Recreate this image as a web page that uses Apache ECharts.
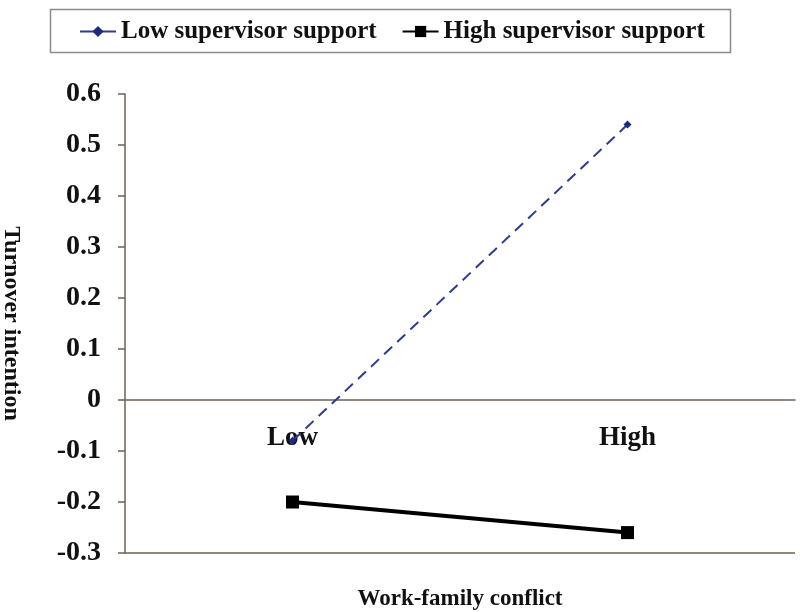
<!DOCTYPE html>
<html>
<head>
<meta charset="utf-8">
<script src="https://cdn.jsdelivr.net/npm/echarts@6/dist/echarts.min.js"></script>
<style>
  html, body { margin: 0; padding: 0; background: #fff; }
  #main { width: 800px; height: 612px; }
</style>
</head>
<body>
<div id="main"></div>
<script>
var categories = ['Low', 'High'];
var lowSupport = [-0.08, 0.54];
var highSupport = [-0.20, -0.26];
var seriesNames = ['Low supervisor support', 'High supervisor support'];
var yMin = -0.3, yMax = 0.6, yStep = 0.1;

var font = '"Liberation Serif", "Times New Roman", serif';
var axisColor = '#6e625a';

var chart = echarts.init(document.getElementById('main'), null, { renderer: 'canvas' });

var option = {
  backgroundColor: '#ffffff',
  animation: false,
  graphic: [{
    type: 'rect',
    left: 48, top: 7,
    shape: { width: 680, height: 43 },
    style: { fill: 'none', stroke: '#8a8a8a', lineWidth: 1.5 },
    z: -1
  }],
  legend: {
    top: 14,
    left: 74,
    itemGap: 25,
    itemWidth: 36,
    itemHeight: 14,
    textStyle: { fontFamily: font, fontWeight: 'bold', fontSize: 25, color: '#111' },
    data: [
      { name: seriesNames[0], lineStyle: { type: 'solid' } },
      { name: seriesNames[1] }
    ]
  },
  grid: { left: 125, right: 5, top: 94, bottom: 59, outerBoundsMode: 'none' },
  xAxis: {
    type: 'category',
    data: categories,
    boundaryGap: true,
    // v6 keeps labels at the grid edge with onZero, so shift the whole axis up to y = 0
    offset: -153,
    axisLine: { onZero: false, lineStyle: { color: axisColor, width: 1.5 } },
    axisTick: { show: false },
    axisLabel: { margin: 25, fontFamily: font, fontWeight: 'bold', fontSize: 27, color: '#111' },
    name: 'Work-family conflict',
    nameLocation: 'middle',
    nameGap: 188,
    nameTextStyle: { fontFamily: font, fontWeight: 'bold', fontSize: 23, color: '#111' }
  },
  yAxis: {
    type: 'value',
    min: yMin,
    max: yMax,
    interval: yStep,
    axisLine: { show: true, onZero: false, lineStyle: { color: axisColor, width: 1.5 } },
    axisTick: { show: true, length: 7, lineStyle: { color: axisColor, width: 1.5 } },
    splitLine: { show: false },
    axisLabel: {
      margin: 24,
      fontFamily: font, fontWeight: 'bold', fontSize: 28, color: '#111',
      formatter: function (v) { return String(Math.round(v * 10) / 10); }
    },
    name: 'Turnover intention',
    nameLocation: 'middle',
    nameGap: 102,
    nameRotate: -90,
    nameTextStyle: { fontFamily: font, fontWeight: 'bold', fontSize: 24, color: '#111' }
  },
  series: [{
    name: seriesNames[0],
    type: 'line',
    data: lowSupport,
    symbol: 'diamond',
    symbolSize: 8,
    itemStyle: { color: '#1c2a80' },
    lineStyle: { color: '#2a3c94', width: 2, type: [11, 7] },
    z: 3
  }, {
    name: seriesNames[1],
    type: 'line',
    data: highSupport,
    symbol: 'rect',
    symbolSize: 13,
    itemStyle: { color: '#000' },
    lineStyle: { color: '#000', width: 4 },
    z: 4,
    markLine: {
      silent: true,
      symbol: 'none',
      label: { show: false },
      lineStyle: { color: axisColor, width: 1.5, type: 'solid' },
      data: [{ yAxis: yMin }]
    }
  }]
};

chart.setOption(option);
</script>
</body>
</html>
